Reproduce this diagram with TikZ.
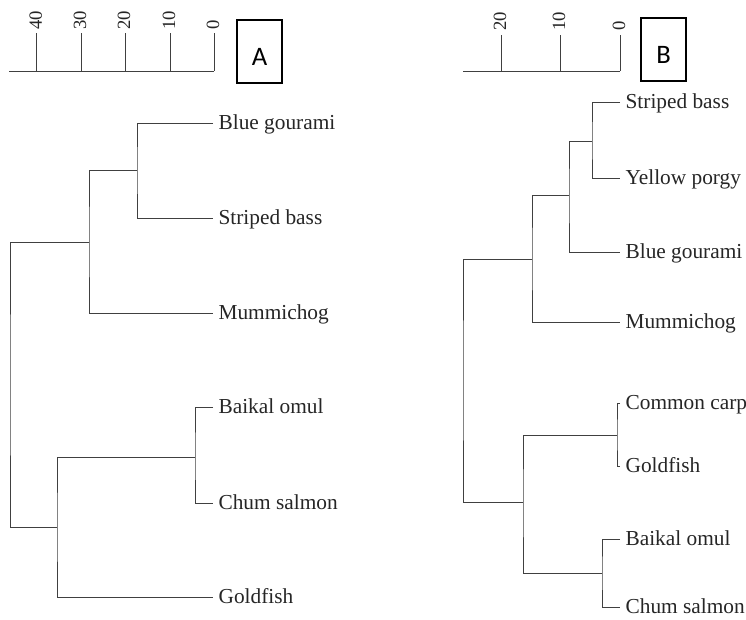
\documentclass[tikz,border=0pt]{standalone}
\usepackage{fontspec}
\setmainfont{Liberation Serif}
\newfontfamily\boxfont{Carlito}
\begin{document}
\begin{tikzpicture}[x=0.75pt,y=-0.75pt,
  br/.style={draw=black!75, line width=0.65pt},
  axisline/.style={draw=black!75, line width=0.7pt},
  leaf/.style={anchor=base west, inner sep=0pt, xshift=4pt, yshift=-5pt, font=\fontsize{16}{18}\selectfont, text=black!85},
  ticklab/.style={rotate=90, anchor=west, inner sep=0pt, font=\fontsize{14}{16}\selectfont, text=black!85},
  panelbox/.style={draw=black, line width=1.4pt},
  boxlab/.style={inner sep=0pt, font=\boxfont\fontsize{20}{22}\selectfont}
]
\useasboundingbox[fill=white] (0,0) rectangle (746,620);

% ---------------- Panel A axis ----------------
\draw[axisline] (9,71) -- (214,71);
\foreach \x/\l in {36.7/40, 81/30, 125/20, 170/10, 214/0}{
  \draw[axisline] (\x,71) -- (\x,33);
  \node[ticklab] at (\x-1,30) {\l};
}
\draw[panelbox] (237,20) rectangle (282,83);
\node[boxlab] (labA) at (259.5,57) {A};

% ---------------- Panel A tree ----------------
\coordinate (bgA) at (213,123);
\coordinate (sbA) at (213,218);
\coordinate (mumA) at (213,313);
\coordinate (boA) at (213,407);
\coordinate (csA) at (213,503);
\coordinate (gfA) at (213,597);
\node[leaf] (tbgA) at (bgA) {Blue gourami};
\node[leaf] (tsbA) at (sbA) {Striped bass};
\node[leaf] (tmumA) at (mumA) {Mummichog};
\node[leaf] (tboA) at (boA) {Baikal omul};
\node[leaf] (tcsA) at (csA) {Chum salmon};
\node[leaf] (tgfA) at (gfA) {Goldfish};

\coordinate (a1) at (137,170);
\coordinate (a2) at (89,242);
\coordinate (a3) at (195,457);
\coordinate (a4) at (57,527);
\coordinate (rA) at (10,385);

\draw[br] (bgA) -| (a1) |- (sbA);
\draw[br] (a1) -| (a2) |- (mumA);
\draw[br] (boA) -| (a3) |- (csA);
\draw[br] (a3) -| (a4) |- (gfA);
\draw[br] (a2) -| (rA) |- (a4);

% ---------------- Panel B axis ----------------
\draw[axisline] (463,71) -- (620,71);
\foreach \x/\l in {501/20, 560/10, 620/0}{
  \draw[axisline] (\x,71) -- (\x,35);
  \node[ticklab] at (\x-1,31) {\l};
}
\draw[panelbox] (641,18) rectangle (686,81);
\node[boxlab] (labB) at (663.5,55) {B};

% ---------------- Panel B tree ----------------
\coordinate (sbB) at (620,102);
\coordinate (ypB) at (620,178);
\coordinate (bgB) at (620,252);
\coordinate (mumB) at (620,322);
\coordinate (ccB) at (620,403);
\coordinate (gfB) at (620,466);
\coordinate (boB) at (620,539);
\coordinate (csB) at (620,607);
\node[leaf] (tsbB) at (sbB) {Striped bass};
\node[leaf] (typB) at (ypB) {Yellow porgy};
\node[leaf] (tbgB) at (bgB) {Blue gourami};
\node[leaf] (tmumB) at (mumB) {Mummichog};
\node[leaf] (tccB) at (ccB) {Common carp};
\node[leaf] (tgfB) at (gfB) {Goldfish};
\node[leaf] (tboB) at (boB) {Baikal omul};
\node[leaf] (tcsB) at (csB) {Chum salmon};

\coordinate (b1) at (592,141);
\coordinate (b2) at (569,195);
\coordinate (b3) at (532,259);
\coordinate (b4) at (617,435);
\coordinate (b5) at (602,573);
\coordinate (b6) at (523,502);
\coordinate (rB) at (463,380);

\draw[br] (sbB) -| (b1) |- (ypB);
\draw[br] (b1) -| (b2) |- (bgB);
\draw[br] (b2) -| (b3) |- (mumB);
\draw[br] (ccB) -| (b4) |- (gfB);
\draw[br] (boB) -| (b5) |- (csB);
\draw[br] (b4) -| (b6) |- (b5);
\draw[br] (b3) -| (rB) |- (b6);
\end{tikzpicture}
\end{document}
